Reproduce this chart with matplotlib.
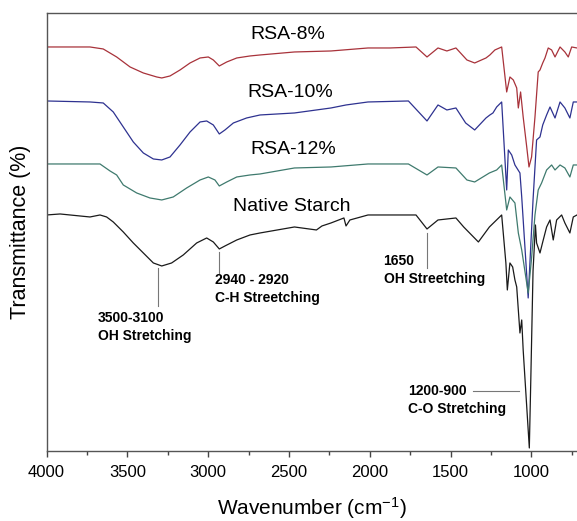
import matplotlib
matplotlib.use('Agg')
import matplotlib.pyplot as plt
from matplotlib.ticker import MultipleLocator

plt.rcParams['font.family'] = ['Liberation Sans', 'DejaVu Sans']
plt.rcParams['mathtext.default'] = 'regular'

# FTIR spectra, stacked with offsets (transmittance in arbitrary units)
rsa8_wn = [4000, 3731, 3649, 3566, 3483, 3401, 3318, 3287, 3236, 3174, 3112, 3050, 2999,
           2968, 2931, 2885, 2823, 2741, 2679, 2466, 2240, 2011, 1875, 1714, 1646, 1578,
           1523, 1467, 1399, 1351, 1281, 1257, 1226, 1184, 1153, 1133, 1112, 1091, 1081,
           1067, 1051, 1029, 1015, 999, 978, 958, 947, 930, 916, 896, 875, 854, 823, 793,
           772, 751, 718]
rsa8_t = [404, 404, 402, 394, 384, 378, 374, 373, 375, 381, 388, 393, 394,
          391, 385, 389, 393, 395, 396, 399, 400, 403, 403, 404, 394, 403,
          400, 403, 391, 388, 393, 396, 401, 404, 359, 374, 371, 363, 343,
          359, 334, 304, 284, 294, 334, 379, 381, 388, 393, 403, 401, 394, 404, 399,
          394, 404, 403]

rsa10_wn = [4000, 3731, 3649, 3587, 3525, 3463, 3401, 3339, 3287, 3236, 3174, 3112, 3050,
            3009, 2968, 2931, 2896, 2844, 2762, 2679, 2466, 2240, 2147, 2011, 1761, 1646,
            1578, 1523, 1467, 1407, 1351, 1281, 1257, 1238, 1215, 1184, 1153, 1143, 1122,
            1102, 1071, 1060, 1020, 990, 968, 947, 930, 906, 885, 854, 823, 793, 762,
            741, 718]
rsa10_t = [350, 349, 348, 339, 324, 309, 298, 292, 291, 294, 306, 319, 329,
           330, 326, 317, 321, 328, 333, 336, 338, 343, 346, 349, 350, 330,
           346, 341, 343, 328, 321, 333, 336, 338, 344, 349, 261, 301, 296,
           286, 278, 254, 153, 251, 311, 314, 326, 336, 344, 333, 349, 343, 333,
           349, 349]

rsa12_wn = [4000, 3669, 3607, 3566, 3525, 3442, 3360, 3287, 3216, 3133, 3050, 2999, 2958,
            2931, 2885, 2823, 2741, 2679, 2466, 2240, 2011, 1761, 1646, 1578, 1467, 1399,
            1351, 1260, 1215, 1184, 1153, 1133, 1102, 1081, 1060, 1020, 1000, 978, 958,
            937, 906, 875, 854, 823, 793, 762, 741, 718]
rsa12_t = [287, 287, 280, 276, 266, 258, 253, 251, 254, 263, 271, 274, 271,
           265, 269, 274, 276, 277, 283, 284, 287, 287, 276, 284, 283, 271,
           269, 278, 281, 286, 241, 254, 248, 218, 201, 158, 191, 236, 261,
           268, 281, 286, 281, 286, 283, 274, 286, 286]

native_wn = [4000, 3916, 3793, 3731, 3669, 3628, 3587, 3525, 3463, 3401, 3339, 3287, 3226,
             3154, 3071, 3009, 2968, 2931, 2896, 2823, 2741, 2679, 2466, 2330, 2296, 2240,
             2160, 2147, 2123, 2011, 1714, 1646, 1578, 1467, 1419, 1328, 1260, 1184, 1158,
             1149, 1133, 1116, 1102, 1091, 1071, 1060, 1051, 1013, 1004, 990, 975, 968,
             947, 930, 906, 885, 865, 844, 813, 793, 762, 741, 718]
native_t = [236, 237, 235, 234, 236, 234, 229, 219, 208, 198, 188, 185, 188,
            196, 208, 213, 209, 202, 205, 211, 216, 218, 224, 221, 225, 228,
            233, 225, 231, 236, 236, 222, 231, 233, 224, 209, 224, 236, 188,
            161, 188, 184, 171, 164, 118, 131, 101, 3, 70, 180, 226, 208,
            198, 209, 224, 231, 211, 231, 236, 228, 218, 234, 236]

fig = plt.figure(figsize=(5.77, 5.21), dpi=100)
ax = fig.add_axes([0.0806, 0.1344, 0.9194, 0.8407])

ax.plot(rsa8_wn, rsa8_t, color='#a8323a', lw=0.9)
ax.plot(rsa10_wn, rsa10_t, color='#2e3290', lw=0.9)
ax.plot(rsa12_wn, rsa12_t, color='#3f7a6e', lw=0.9)
ax.plot(native_wn, native_t, color='#1a1a1a', lw=0.9)

# sample names
ax.text(2510, 416, 'RSA-8%', fontsize=14, ha='center', va='center')
ax.text(2490, 358, 'RSA-10%', fontsize=14, ha='center', va='center')
ax.text(2474, 301, 'RSA-12%', fontsize=14, ha='center', va='center')
ax.text(2485, 244, 'Native Starch', fontsize=14, ha='center', va='center')

# band assignments
ax.plot([3312, 3312], [183, 145], color='#777777', lw=0.8)
ax.text(3684, 124, '3500-3100\nOH Stretching', fontsize=10, fontweight='bold',
        ha='left', va='center', linespacing=1.35)
ax.plot([2931, 2931], [199, 178], color='#777777', lw=0.8)
ax.text(2955, 162, '2940 - 2920\nC-H Streetching', fontsize=10, fontweight='bold',
        ha='left', va='center', linespacing=1.3)
ax.plot([1646, 1646], [218, 183], color='#777777', lw=0.8)
ax.text(1915, 181, '1650\nOH Streetching', fontsize=10, fontweight='bold',
        ha='left', va='center', linespacing=1.3)
ax.plot([1364, 1075], [60, 60], color='#777777', lw=0.8)
ax.text(1761, 51, '1200-900\nC-O Stretching', fontsize=10, fontweight='bold',
        ha='left', va='center', linespacing=1.35)

ax.set_xlim(4000, 718)
ax.set_ylim(0, 438)
ax.xaxis.set_major_locator(MultipleLocator(500))
ax.xaxis.set_minor_locator(MultipleLocator(250))
ax.tick_params(axis='x', which='major', direction='out', length=4.5, width=1,
               labelsize=12, pad=5.5, color='#444444')
ax.tick_params(axis='x', which='minor', direction='out', length=3, width=1, color='#444444')
ax.set_yticks([])
ax.spines['right'].set_visible(False)
for side in ['left', 'top', 'bottom']:
    ax.spines[side].set_color('#555555')
    ax.spines[side].set_linewidth(1.0)

ax.set_xlabel('Wavenumber (cm$^{-1}$)', fontsize=15, labelpad=11)
ax.set_ylabel('Transmittance (%)', fontsize=15.5, labelpad=11)

plt.savefig('out.png', dpi=100)
